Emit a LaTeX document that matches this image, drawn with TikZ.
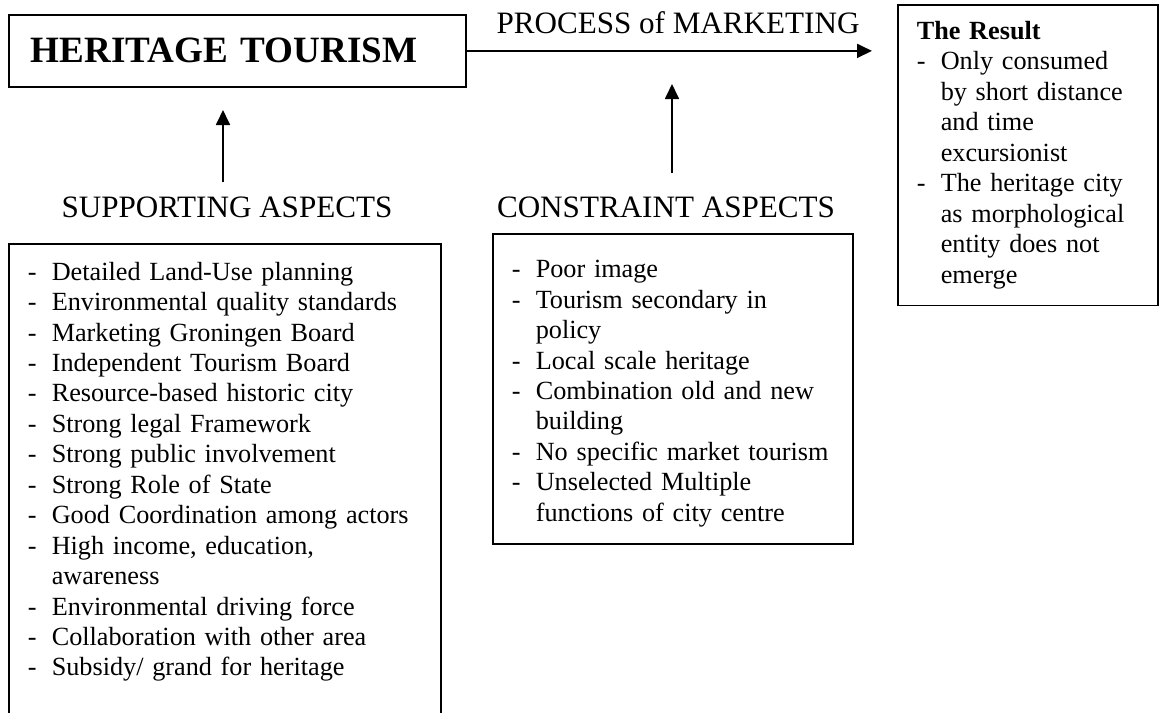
\documentclass[tikz,border=0pt]{standalone}
\usepackage{fontspec}
\setmainfont{Liberation Serif}
\usetikzlibrary{arrows.meta}

\hyphenpenalty=10000
\exhyphenpenalty=10000
% one list entry: dash, then a hanging indent for wrapped lines
\newcommand{\itm}[1]{\par\noindent\hangindent=10.8pt\hangafter=1\strut\makebox[10.8pt][l]{-}#1\strut\par}

\begin{document}
\begin{tikzpicture}[x=0.45pt, y=-0.45pt,
    listbox/.style={draw, thick, anchor=north west, align=left, inner xsep=8.5pt, inner ysep=6pt,
        font=\fontsize{11.8}{13.7}\selectfont},
    aspect/.style={anchor=base, font=\fontsize{14}{16}\selectfont},
    >={Triangle[length=6.75pt,width=6.3pt]}]
    \useasboundingbox (0,0) rectangle (1159,713);
    \clip (0,0) rectangle (1159,713);
    \fill[white] (0,0) rectangle (1159,713);

    \node[draw, thick, anchor=north west, text width=185.85pt, minimum height=32.4pt, inner xsep=9.9pt,
        font=\fontsize{16.7}{20}\selectfont\bfseries] (heritage) at (8,14) {HERITAGE TOURISM};
    \node[anchor=base, font=\fontsize{14}{16}\selectfont] (process) at (678,33) {PROCESS of MARKETING};
    \node[listbox, text width=100pt] (result) at (897,4) {\textbf{The Result}\strut
        \itm{Only consumed by short distance and time excursionist}
        \itm{The heritage city as morphological entity does not emerge}};

    \node[aspect] (supporting) at (227,217) {SUPPORTING ASPECTS};
    \node[aspect] (constraint) at (666,217) {CONSTRAINT ASPECTS};

    \node[listbox, text width=177.4pt, inner ysep=2.6pt] (suplist) at (8,243) {
        \itm{Detailed Land-Use planning}
        \itm{Environmental quality standards}
        \itm{Marketing Groningen Board}
        \itm{Independent Tourism Board}
        \itm{Resource-based historic city}
        \itm{Strong legal Framework}
        \itm{Strong public involvement}
        \itm{Strong Role of State}
        \itm{Good Coordination among actors}
        \itm{High income, education, awareness}
        \itm{Environmental driving force}
        \itm{Collaboration with other area}
        \itm{Subsidy/ grand for heritage}
        \vspace*{60pt}\hbox{}};
    \node[listbox, text width=145pt] (conlist) at (492,233) {
        \itm{Poor image}
        \itm{Tourism secondary in policy}
        \itm{Local scale heritage}
        \itm{Combination old and new building}
        \itm{No specific market tourism}
        \itm{Unselected Multiple functions of city centre}};

    % arrows
    \coordinate (suptail) at (223,182);
    \coordinate (suptip) at (223,110);
    \coordinate (contail) at (672,173);
    \coordinate (contip) at (672,84);
    \draw[->, thick, shorten >=11.25pt] (heritage.east) -- (heritage.east -| result.west);
    \draw[->, thick] (suptail) -- (suptip);
    \draw[->, thick] (contail) -- (contip);
\end{tikzpicture}
\end{document}
